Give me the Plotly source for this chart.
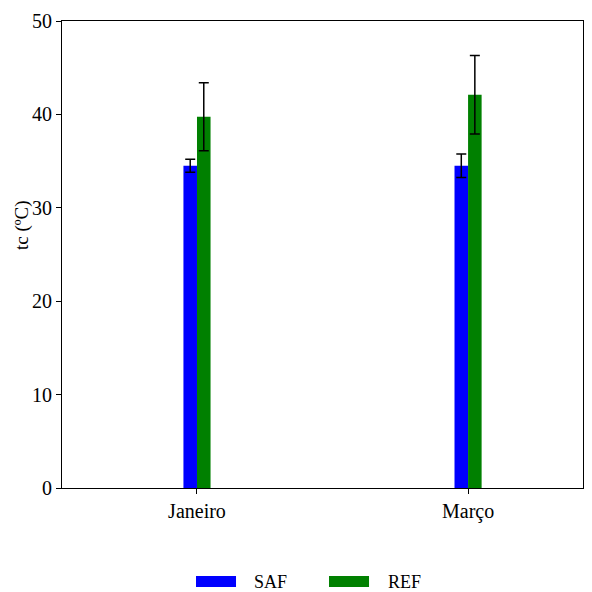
import plotly.graph_objects as go

categories = ["Janeiro", "Março"]
saf_values = [34.5, 34.5]
saf_errors = [0.7, 1.25]
ref_values = [39.75, 42.1]
ref_errors = [3.65, 4.2]
series_names = ["SAF", "REF"]
colors = {"SAF": "#0000ff", "REF": "#008000"}
y_title = "tc (ºC)"

fig = go.Figure()
fig.add_trace(go.Bar(
    x=categories, y=saf_values, name="SAF", marker_color=colors["SAF"],
    width=0.05, offset=-0.05, marker_line_width=0, showlegend=False,
    error_y=dict(type="data", array=saf_errors, color="black", thickness=1.5, width=5),
))
fig.add_trace(go.Bar(
    x=categories, y=ref_values, name="REF", marker_color=colors["REF"],
    width=0.05, offset=0, marker_line_width=0, showlegend=False,
    error_y=dict(type="data", array=ref_errors, color="black", thickness=1.5, width=5),
))

font = dict(family="Liberation Serif, Times New Roman, serif", size=20, color="black")
legend_font = dict(family="Liberation Serif, Times New Roman, serif", size=18, color="black")

# manual legend (wide rectangular patches like the reference)
patch_x = [(0.2572, 0.3340), (0.5125, 0.5893)]
text_x = [0.3647, 0.6219]
shapes = []
annotations = []
for name, (x0, x1), tx in zip(series_names, patch_x, text_x):
    shapes.append(dict(type="rect", xref="paper", yref="paper", x0=x0, x1=x1,
                       y0=-0.2120, y1=-0.1885, fillcolor=colors[name], line_width=0))
    annotations.append(dict(text=name, xref="paper", yref="paper", x=tx, y=-0.2010,
                            xanchor="left", yanchor="middle", showarrow=False, font=legend_font))
annotations.append(dict(text=y_title, xref="paper", yref="paper", x=-0.0768, y=0.563,
                        xanchor="center", yanchor="middle", textangle=-90,
                        showarrow=False,
                        font=dict(family="Liberation Serif, Times New Roman, serif",
                                  size=19, color="black")))

fig.update_layout(
    width=592, height=592,
    margin=dict(l=62, r=9, t=21, b=104),
    plot_bgcolor="white", paper_bgcolor="white",
    font=font,
    barmode="group",
    showlegend=False,
    shapes=shapes,
    annotations=annotations,
)
fig.update_xaxes(
    range=[-0.498, 1.424], showline=True, linecolor="black", linewidth=1, mirror=True,
    ticks="outside", ticklen=5, tickcolor="black", showgrid=False, tickfont=font,
)
fig.update_yaxes(
    range=[0, 50], tickvals=[0, 10, 20, 30, 40, 50], showline=True, linecolor="black",
    linewidth=1, mirror=True, ticks="outside", ticklen=5, tickcolor="black",
    showgrid=False, zeroline=False, tickfont=font,
)
fig.write_html("out.html")
